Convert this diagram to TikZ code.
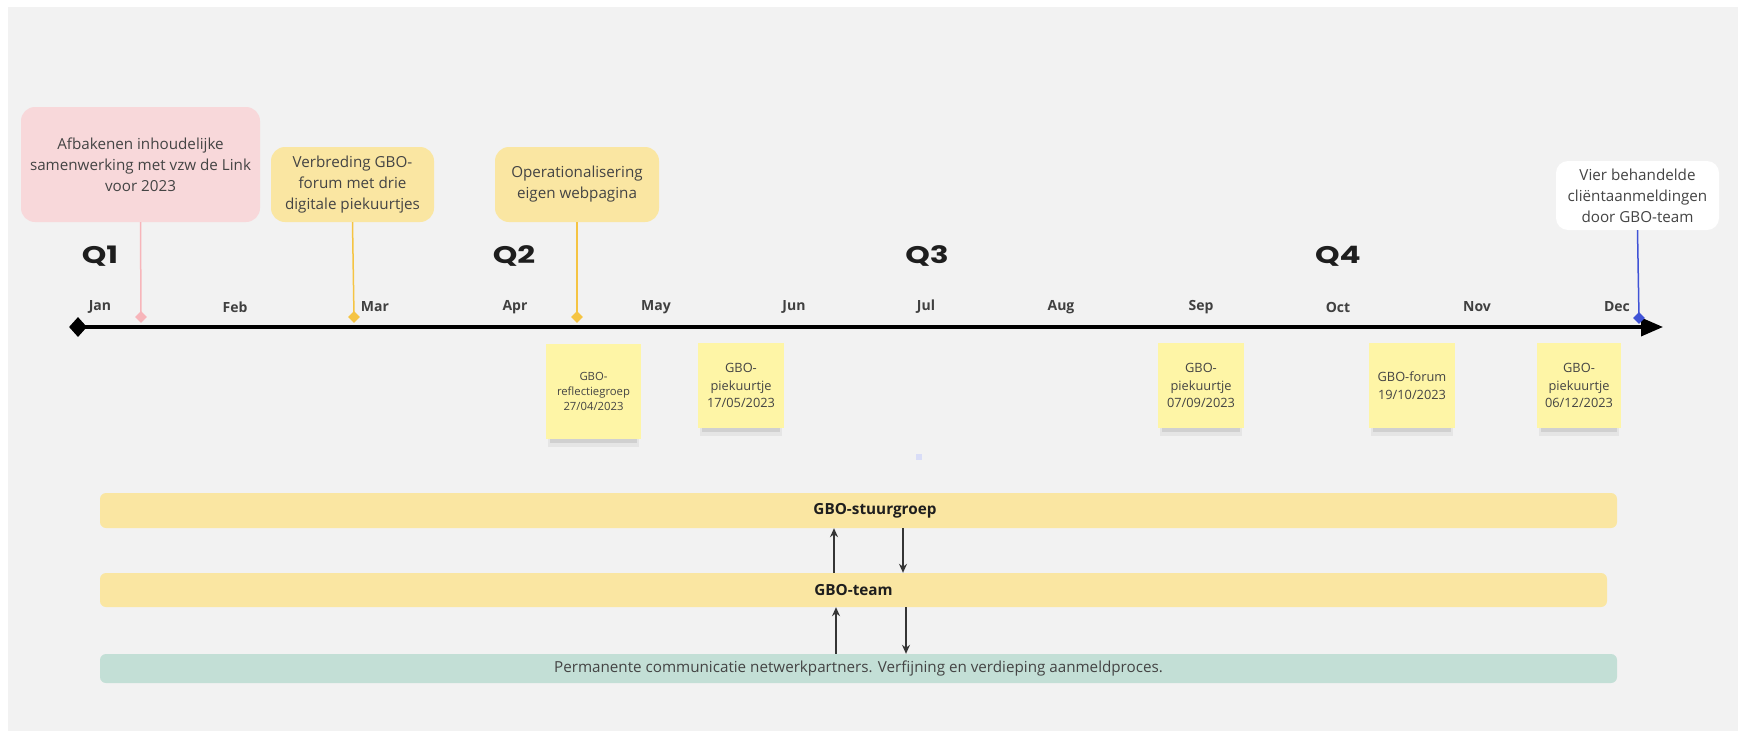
\documentclass[tikz,border=0pt]{standalone}
\usepackage{fontspec}
\setmainfont{Open Sans}
\newfontfamily\qfont{Poppins}
\usetikzlibrary{arrows.meta,shapes.geometric,shadows}

\definecolor{paper}{HTML}{F2F2F2}
\definecolor{pinkfill}{HTML}{F8D8DA}
\definecolor{pinkline}{HTML}{F7B5BA}
\definecolor{yelfill}{HTML}{FAE6A2}
\definecolor{yelline}{HTML}{F5C443}
\definecolor{blueline}{HTML}{4053D6}
\definecolor{notefill}{HTML}{FEF5A6}
\definecolor{tealfill}{HTML}{C3DFD6}
\definecolor{txtgray}{HTML}{444444}
\definecolor{txtdark}{HTML}{1E1E1E}
\definecolor{dotblue}{HTML}{D9DDF7}

\tikzset{
  callout/.style={rounded corners=14pt, align=center, inner sep=0pt, text=txtgray,
    font=\fontsize{15.2}{21}\selectfont},
  pin/.style={diamond, inner sep=0pt, minimum width=12pt, minimum height=12pt},
  sticky/.style={fill=notefill, align=center, inner sep=0pt, text=txtgray,
    general shadow={shadow scale=.96, shadow yshift=-10pt, fill=black, opacity=.05},
    general shadow={shadow scale=.91, shadow yshift=-9pt, fill=black, opacity=.09},
    general shadow={shadow scale=.85, shadow yshift=-8pt, fill=black, opacity=.14}},
  bar/.style={rounded corners=6pt, inner sep=0pt},
  month/.style={font=\bfseries\fontsize{14}{16}\selectfont, text=txtdark!85},
  quarter/.style={font=\qfont\bfseries\fontsize{24}{26}\selectfont, text=txtdark},
  flow/.style={draw=txtdark!90, line width=1.3pt, -{Stealth[length=9pt,width=8pt]}}
}

\begin{document}
\begin{tikzpicture}[x=1pt,y=-1pt]
% canvas
\fill[white] (0,0) rectangle (1738,731);
\fill[paper] (8,7) rectangle (1738,731);

% timeline
\node[diamond, fill=black, inner sep=0pt, minimum width=18pt, minimum height=20pt] (tstart) at (78,327) {};
\coordinate (tend) at (1663,327);
\draw[line width=3.5pt, -{Triangle[length=22pt,width=18pt]}] (tstart.center) -- (tend);

\foreach \m/\x in {Jan/100, Feb/235, Mar/375, Apr/515, May/656, Jun/794,
                   Jul/926, Aug/1061, Sep/1201, Oct/1338, Nov/1477, Dec/1617}
  \node[month] (m\m) at (\x,307) {\m};
\foreach \q/\x in {1/100, 2/514, 3/927, 4/1338}
  \node[quarter] (q\q) at (\x,256) {\scalebox{1.3}[1]{Q\q}};

% milestones above the line
\node[callout, fill=pinkfill, minimum width=239pt, minimum height=115pt] (afbak) at (140.5,164.5)
  {Afbakenen inhoudelijke\\samenwerking met vzw de Link\\voor 2023};
\node[callout, fill=yelfill, minimum width=163pt, minimum height=75pt] (verbr) at (352.5,184.5)
  {Verbreding GBO-\\forum met drie\\digitale piekuurtjes};
\node[callout, fill=yelfill, minimum width=164pt, minimum height=75pt] (webp) at (577,184.5)
  {Operationalisering\\eigen webpagina};
\node[callout, fill=white, rounded corners=12pt, minimum width=163pt, minimum height=69pt] (aanm) at (1637.5,195.5)
  {Vier behandelde\\cliëntaanmeldingen\\door GBO-team};

\node[pin, fill=pinkline] (pafbak) at (141,317) {};
\node[pin, fill=yelline] (pverbr) at (354,317) {};
\node[pin, fill=yelline] (pwebp) at (577,317) {};
\node[pin, fill=blueline] (paanm) at (1639,318) {};
\draw[pinkline, line width=1.5pt] (afbak.south) -- (pafbak.center);
\draw[yelline, line width=1.5pt] (verbr.south) -- (pverbr.center);
\draw[yelline, line width=1.5pt] (webp.south) -- (pwebp.center);
\draw[blueline, line width=1.5pt] (aanm.south) -- (paanm.center);

% sticky notes below the line
\node[sticky, minimum size=95pt, font=\fontsize{11.3}{15}\selectfont] (refl) at (593.5,391.5)
  {GBO-\\reflectiegroep\\27/04/2023};
\node[sticky, minimum width=86pt, minimum height=85pt, font=\fontsize{12.8}{17.5}\selectfont] (piek1) at (741,385.5)
  {GBO-\\piekuurtje\\17/05/2023};
\node[sticky, minimum width=86pt, minimum height=85pt, font=\fontsize{12.8}{17.5}\selectfont] (piek2) at (1201,385.5)
  {GBO-\\piekuurtje\\07/09/2023};
\node[sticky, minimum width=86pt, minimum height=85pt, font=\fontsize{12.8}{17.5}\selectfont] (forum) at (1412,385.5)
  {GBO-forum\\19/10/2023};
\node[sticky, minimum width=84pt, minimum height=85pt, font=\fontsize{12.8}{17.5}\selectfont] (piek3) at (1579,385.5)
  {GBO-\\piekuurtje\\06/12/2023};

\node[fill=dotblue, inner sep=0pt, minimum size=6pt] (dot) at (919,457) {};

% structure bars
\node[bar, fill=yelfill, minimum width=1517pt, minimum height=35pt] (stuur) at (858.5,510.5) {};
\node[font=\bfseries\fontsize{15.3}{17}\selectfont, text=txtdark] (stuurlbl) at (875,511) {GBO-stuurgroep};
\node[bar, fill=yelfill, minimum width=1507pt, minimum height=34pt,
  font=\bfseries\fontsize{15.3}{17}\selectfont, text=txtdark] (team) at (853.5,590) {GBO-team};
\node[bar, fill=tealfill, minimum width=1517pt, minimum height=29pt,
  font=\fontsize{15.2}{17}\selectfont, text=txtgray] (perm) at (858.5,668.5)
  {Permanente communicatie netwerkpartners. Verfijning en verdieping aanmeldproces.};

\draw[flow] ([xshift=-19.5pt]team.north) -- ([xshift=-24.5pt]stuur.south);
\draw[flow] ([xshift=44.5pt]stuur.south) -- ([xshift=49.5pt]team.north);
\draw[flow] ([xshift=-22.5pt]perm.north) -- ([xshift=-17.5pt]team.south);
\draw[flow] ([xshift=52.5pt]team.south) -- ([xshift=47.5pt]perm.north);
\end{tikzpicture}
\end{document}
